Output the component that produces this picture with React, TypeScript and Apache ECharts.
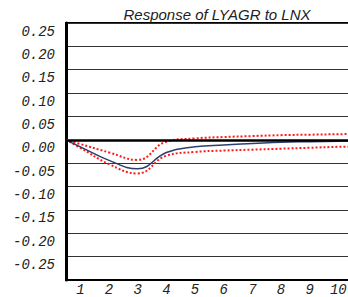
import React, { useEffect, useRef } from "react";
import * as echarts from "echarts";

// horizon positions: 0.5 is the plot's left border where every response starts at zero
const horizon = [0.5, 1, 2, 3, 4, 5, 6, 7, 8, 9, 10, 11];
const periodLabels = [1, 2, 3, 4, 5, 6, 7, 8, 9, 10];
const response = [0, -0.015, -0.044, -0.062, -0.027, -0.015, -0.011, -0.008, -0.005, -0.004, -0.003, -0.002];
const upperBand = [0, -0.009, -0.027, -0.043, -0.004, 0.003, 0.006, 0.008, 0.01, 0.011, 0.012, 0.013];
const lowerBand = [0, -0.017, -0.052, -0.072, -0.034, -0.026, -0.023, -0.021, -0.019, -0.017, -0.015, -0.014];
const titleText = "Response of LYAGR to LNX";

const toPairs = (vals: number[]) => horizon.map((p, i) => [p, vals[i]]);

export default function App() {
  const ref = useRef<HTMLDivElement>(null);
  useEffect(() => {
    if (!ref.current) return;
    const chart = echarts.init(ref.current, null, { renderer: "svg" });
    const monoFont = "'Liberation Mono', 'DejaVu Sans Mono', monospace";
    chart.setOption({
      animation: false,
      backgroundColor: "#ffffff",
      title: {
        text: titleText,
        left: 212,
        top: 2,
        textAlign: "center",
        textStyle: {
          fontFamily: "'Liberation Sans', Arial, sans-serif",
          fontStyle: "italic",
          fontWeight: "normal",
          fontSize: 15,
          color: "#222",
        },
      },
      grid: {
        left: 66,
        right: 5,
        top: 23,
        bottom: 15,
        show: true,
        borderColor: "#000",
        borderWidth: 2,
        backgroundColor: "transparent",
      },
      xAxis: {
        type: "value",
        min: 0.5,
        max: 11,
        axisLine: { show: true, onZero: false, lineStyle: { color: "#000", width: 2 } },
        axisTick: { show: false },
        splitLine: { show: false },
        axisLabel: {
          customValues: periodLabels,
          margin: 3,
          fontFamily: monoFont,
          fontStyle: "italic",
          fontSize: 14,
          color: "#222",
          formatter: (v: number) => String(v),
        },
      },
      yAxis: {
        type: "value",
        min: -0.3,
        max: 0.25,
        interval: 0.05,
        axisLine: { show: true, lineStyle: { color: "#000", width: 3 } },
        axisTick: { show: false },
        splitLine: { show: true, lineStyle: { color: "#333", width: 1 } },
        axisLabel: {
          margin: 11,
          verticalAlign: "top",
          lineHeight: 17,
          fontFamily: monoFont,
          fontStyle: "italic",
          fontSize: 14,
          color: "#222",
          formatter: (v: number) => (v < -0.27 ? "" : v.toFixed(2)),
        },
      },
      series: [
        {
          type: "line",
          data: toPairs(upperBand),
          showSymbol: false,
          smooth: 0.45,
          lineStyle: { color: "#ff1a1a", width: 2, type: "dotted" },
          z: 3,
          markLine: {
            silent: true,
            symbol: "none",
            label: { show: false },
            lineStyle: { color: "#000", width: 2.5, type: "solid" },
            data: [{ yAxis: 0 }],
          },
        },
        {
          type: "line",
          data: toPairs(lowerBand),
          showSymbol: false,
          smooth: 0.45,
          lineStyle: { color: "#ff1a1a", width: 2, type: "dotted" },
          z: 3,
        },
        {
          type: "line",
          data: toPairs(response),
          showSymbol: false,
          smooth: 0.45,
          lineStyle: { color: "#2a3f6e", width: 1.5 },
          z: 4,
        },
      ],
    });
    return () => chart.dispose();
  }, []);
  return (
    <div style={{ position: "fixed", left: 0, top: 0, width: 348, height: 297, overflow: "hidden", background: "#fff" }}>
      <div ref={ref} style={{ width: 372, height: 297 }} />
    </div>
  );
}
